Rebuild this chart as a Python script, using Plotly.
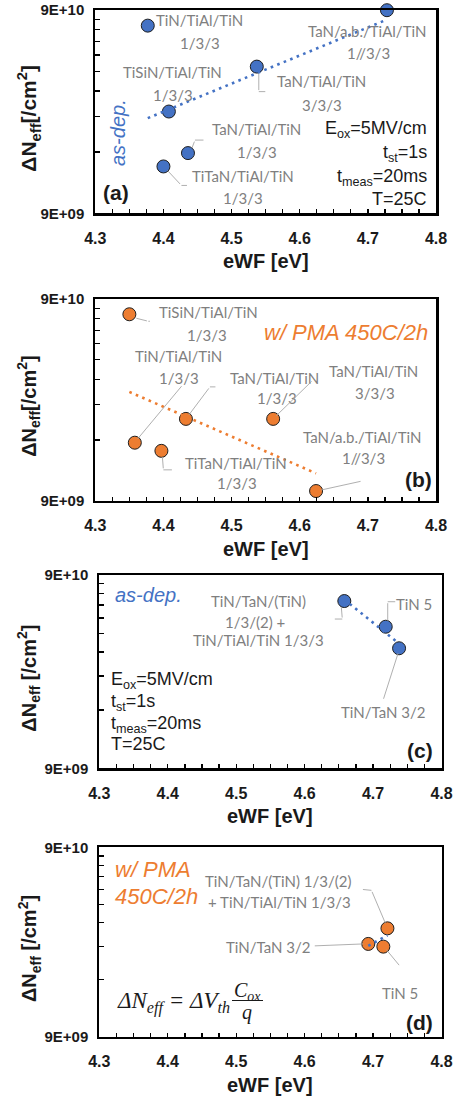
import numpy as np
import plotly.graph_objects as go

W, H = 458, 1097

# ---------------- data ----------------
# (a) as-deposited
a_ewf = [4.377, 4.728, 4.537, 4.408, 4.436, 4.400]
a_dneff = [7.54e10, 8.98e10, 4.74e10, 2.85e10, 1.78e10, 1.53e10]
a_names = [["TiN/TiAl/TiN", "1/3/3"],
           ["TaN/a.b./TiAl/TiN", "1//3/3"],
           ["TaN/TiAl/TiN", "3/3/3"],
           ["TiSiN/TiAl/TiN", "1/3/3"],
           ["TaN/TiAl/TiN", "1/3/3"],
           ["TiTaN/TiAl/TiN", "1/3/3"]]
# (b) w/ PMA 450C/2h
b_ewf = [4.350, 4.358, 4.397, 4.433, 4.561, 4.624]
b_dneff = [7.56e10, 1.745e10, 1.59e10, 2.29e10, 2.29e10, 1.005e10]
b_names = [["TiSiN/TiAl/TiN", "1/3/3"],
           ["TiN/TiAl/TiN", "1/3/3"],
           ["TiTaN/TiAl/TiN", "1/3/3"],
           ["TaN/TiAl/TiN", "1/3/3"],
           ["TaN/TiAl/TiN", "3/3/3"],
           ["TaN/a.b./TiAl/TiN", "1//3/3"]]
# (c) as-deposited, TiN based
c_ewf = [4.658, 4.7185, 4.738]
c_dneff = [6.60e10, 4.86e10, 3.76e10]
c_names = [["TiN/TaN/(TiN)", "1/3/(2) +", "TiN/TiAl/TiN 1/3/3"],
           ["TiN 5"],
           ["TiN/TaN 3/2"]]
# (d) w/ PMA 450C/2h, TiN based
d_ewf = [4.721, 4.693, 4.715]
d_dneff = [3.36e10, 2.78e10, 2.69e10]
d_names = [["TiN/TaN/(TiN) 1/3/(2)", "+ TiN/TiAl/TiN 1/3/3"],
           ["TiN/TaN 3/2"],
           ["TiN 5"]]

x_tickvals = [4.3, 4.4, 4.5, 4.6, 4.7, 4.8]
x_ticktext = ["4.3", "4.4", "4.5", "4.6", "4.7", "4.8"]
y_labelvals = [9e9, 9e10]
y_labeltext = ["9E+09", "9E+10"]
y_tickmarks = [9e9 * k for k in range(1, 11)]

# ---------------- style / layout ----------------
BLUE = "#4472C4"
ORANGE = "#ED7D31"
GRAY_T = "#7F7F7F"
GRAY_L = "#A6A6A6"
INK = "#1a1a1a"
SANS = "Liberation Sans, Arial, sans-serif"
LBL = "Lato, Open Sans, sans-serif"
SERIF = "Liberation Serif, DejaVu Serif, serif"

# label line offsets (px from point centre, +y down) and leader vertices
a_line_off = [[(52, -6), (52, 17)], [(-20, 21), (-18, 43)], [(65, 14), (65, 38)],
              [(4, -40), (4, -17)], [(69, -24), (69, -1)], [(80, 10), (80, 32)]]
a_leader = [None, None, [(2, 7), (2, 25), (10, 25)], None,
            [(4, -5), (7, -13), (17, -13)], [(4, 4), (18, 19), (25, 19)]]
b_line_off = [[(79, -2), (78, 21)], [(44, -87), (44, -65)], [(75, 12), (76, 32)],
              [(89, -41), (91, -21)], [(100, -48), (102, -26)], [(46, -54), (47, -33)]]
b_leader = [[(7, 4), (19, 7), (22, 7)], [(3, -4), (48, -58)], [(1, 6), (2, 19), (12, 19)],
            [(3, -4), (24, -32), (31, -32)], [(3, -3), (40, -39)], [(5, -1), (46, -10)]]
c_line_off = [[(-86, 0), (-89, 21), (-86, 39)], [(28, -23)], [(-16, 64)]]
c_leader = [[(-3, 6), (-2, 18), (-11, 18)], [(2, -6), (2, -25), (11, -25)], [(-1, 5), (-16, 52)]]
d_line_off = [[(-109, -47), (-108, -26)], [(-100, 3)], [(17, 46)]]
d_leader = [[(-2, -5), (-16, -38), (-26, -39)], [(-5, 0), (-55, 2)], [(3, 3), (17, 20)]]

panels = [
    dict(box=(95.3, 436.0, 10.0, 213.3), x=a_ewf, y=a_dneff, names=a_names,
         off=a_line_off, lead=a_leader, color=BLUE, trend=BLUE, tsize=21),
    dict(box=(95.3, 436.0, 299.0, 500.7), x=b_ewf, y=b_dneff, names=b_names,
         off=b_line_off, lead=b_leader, color=ORANGE, trend=ORANGE, tsize=20),
    dict(box=(99.3, 441.5, 575.0, 768.3), x=c_ewf, y=c_dneff, names=c_names,
         off=c_line_off, lead=c_leader, color=BLUE, trend=BLUE, tsize=20),
    dict(box=(99.3, 441.5, 847.3, 1036.7), x=d_ewf, y=d_dneff, names=d_names,
         off=d_line_off, lead=d_leader, color=ORANGE, trend=BLUE, tsize=20),
]


def px(x):
    return x / W


def py(y):
    return 1 - y / H


fig = go.Figure()
annotations = []
shapes = []
layout = dict(width=W, height=H, margin=dict(l=0, r=0, t=0, b=0, pad=0),
              paper_bgcolor="white", plot_bgcolor="white", showlegend=False)

for i, p in enumerate(panels, start=1):
    x0, x1, y0, y1 = p["box"]
    xs = "" if i == 1 else str(i)
    xr, yr = "x" + xs, "y" + xs
    yrange = [np.log10(9e9), np.log10(9e10)]
    layout["xaxis" + xs] = dict(
        domain=[px(x0), px(x1)], anchor=yr, range=[4.3, 4.8], automargin=False,
        tickmode="array", tickvals=x_tickvals, ticktext=x_ticktext,
        ticks="inside", ticklen=4, tickwidth=1.3, tickcolor="black",
        showline=True, mirror=True, linecolor="black", linewidth=2.5,
        showgrid=False, zeroline=False, ticklabeloverflow="allow",
        tickfont=dict(family=SANS, size=16, color=INK, weight="bold"),
        ticklabelstandoff=9,
        minor=dict(dtick=0.025, tick0=4.3, ticks="inside", ticklen=4,
                   tickwidth=1.3, tickcolor="black", showgrid=False))
    # main y axis: frame + tick marks only
    layout["yaxis" + xs] = dict(
        domain=[py(y1), py(y0)], anchor=xr, type="log", automargin=False,
        range=yrange, tickmode="array", tickvals=y_tickmarks, showticklabels=False,
        ticks="inside", ticklen=5, tickwidth=1.3, tickcolor="black",
        showline=True, mirror=True, linecolor="black", linewidth=2.5,
        showgrid=False, zeroline=False)
    # overlay y axis carrying the two decade labels
    layout["yaxis" + str(i + 4)] = dict(
        overlaying=yr, anchor=xr, side="left", type="log", automargin=False,
        range=yrange, tickmode="array", tickvals=y_labelvals, ticktext=y_labeltext,
        ticks="", showline=False, showgrid=False, zeroline=False,
        ticklabeloverflow="allow",
        tickfont=dict(family=SANS, size=15, color=INK, weight="bold"),
        ticklabelstandoff=10)

    # trend line (least-squares fit on log scale, like an exponential trendline)
    coef = np.polyfit(p["x"], np.log10(p["y"]), 1)
    tx = np.array([min(p["x"]), max(p["x"])])
    ty = 10 ** np.polyval(coef, tx)
    fig.add_trace(go.Scatter(x=tx, y=ty, xaxis=xr, yaxis="y" + str(i + 4), mode="lines",
                             line=dict(color=p["trend"], width=2.6, dash="2.6px,4.4px"),
                             hoverinfo="skip", cliponaxis=False))
    fig.add_trace(go.Scatter(x=p["x"], y=p["y"], xaxis=xr, yaxis=yr, mode="markers",
                             marker=dict(size=13, color=p["color"],
                                         line=dict(color="#1e1e1e", width=1)),
                             cliponaxis=False))

    # data labels + leader lines
    for xv, yv, lines, offs, lead in zip(p["x"], p["y"], p["names"], p["off"], p["lead"]):
        ly = float(np.log10(yv))
        if lead:
            for a, b in zip(lead[:-1], lead[1:]):
                annotations.append(dict(
                    xref=xr, yref=yr, x=xv, y=ly, xshift=a[0], yshift=-a[1],
                    ax=b[0] - a[0], ay=b[1] - a[1], axref="pixel", ayref="pixel",
                    text="", showarrow=True, arrowhead=0, arrowwidth=0.9,
                    arrowcolor=GRAY_L, standoff=0, startstandoff=0))
        for txt, (ox, oy) in zip(lines, offs):
            annotations.append(dict(
                xref=xr, yref=yr, x=xv, y=ly, xshift=ox, yshift=-oy,
                text=txt, showarrow=False, xanchor="center", yanchor="middle",
                font=dict(family=LBL, size=15, color=GRAY_T)))

    # axis titles
    annotations.append(dict(xref="paper", yref="paper", x=px((x0 + x1) / 2),
                            y=py(y1 + 48), text="eWF [eV]", showarrow=False,
                            xanchor="center", yanchor="middle",
                            font=dict(family=SANS, size=20, color=INK, weight="bold")))
    ytitle = "ΔN<sub>eff</sub>[/cm<sup>2</sup>]" if i <= 2 else "ΔN<sub>eff</sub> [/cm<sup>2</sup>]"
    annotations.append(dict(xref="paper", yref="paper", x=px(29),
                            y=py((y0 + y1) / 2 + 6), text=ytitle, showarrow=False,
                            textangle=-90, xanchor="center", yanchor="middle",
                            font=dict(family=SANS, size=p["tsize"],
                                      color=INK, weight="bold")))


def ptext(x, y, text, size, color="black", family=SANS, anchor="center",
          weight="normal", style="normal", angle=0):
    annotations.append(dict(xref="paper", yref="paper", x=px(x), y=py(y), text=text,
                            showarrow=False, xanchor=anchor, yanchor="middle",
                            textangle=angle,
                            font=dict(family=family, size=size, color=color,
                                      weight=weight, style=style)))


# panel (a)
ptext(118, 133, "as-dep.", 20, BLUE, style="italic", angle=-90)
ptext(101, 193, "(a)", 21, INK, anchor="left", weight="bold")
for yy, t in zip([130, 154, 177, 199],
                 ["E<sub>ox</sub>=5MV/cm", "t<sub>st</sub>=1s",
                  "t<sub>meas</sub>=20ms", "T=25C"]):
    ptext(429, yy, t, 18, INK, anchor="right")
# panel (b)
ptext(346, 332, "w/ PMA 450C/2h", 22, ORANGE, style="italic")
ptext(434, 480, "(b)", 21, INK, anchor="right", weight="bold")
# panel (c)
ptext(113, 595, "as-dep.", 20, BLUE, anchor="left", style="italic")
ptext(435, 750, "(c)", 21, INK, anchor="right", weight="bold")
for yy, t in zip([680, 702, 724, 744],
                 ["E<sub>ox</sub>=5MV/cm", "t<sub>st</sub>=1s",
                  "t<sub>meas</sub>=20ms", "T=25C"]):
    ptext(109, yy, t, 18, INK, anchor="left")
# panel (d)
ptext(113, 869, "w/ PMA", 22, ORANGE, anchor="left", style="italic")
ptext(113, 896, "450C/2h", 22, ORANGE, anchor="left", style="italic")
ptext(435, 1022, "(d)", 21, INK, anchor="right", weight="bold")
ptext(115, 1003, "ΔN<sub>eff</sub> = ΔV<sub>th</sub>", 23, INK,
      family=SERIF, anchor="left", style="italic")
ptext(247, 991, "C<sub>ox</sub>", 20, INK, family=SERIF, style="italic")
ptext(247, 1012, "q", 20, INK, family=SERIF, style="italic")
shapes.append(dict(type="line", xref="paper", yref="paper", x0=px(232), x1=px(263),
                   y0=py(1000.5), y1=py(1000.5), line=dict(color=INK, width=1)))

layout["annotations"] = annotations
layout["shapes"] = shapes
fig.update_layout(**layout)
# remove the browser's default 8px page margin so the figure fills the window
fig.write_html("out.html", config={"displayModeBar": False, "staticPlot": True},
               post_script="document.body.style.margin='0px';")
